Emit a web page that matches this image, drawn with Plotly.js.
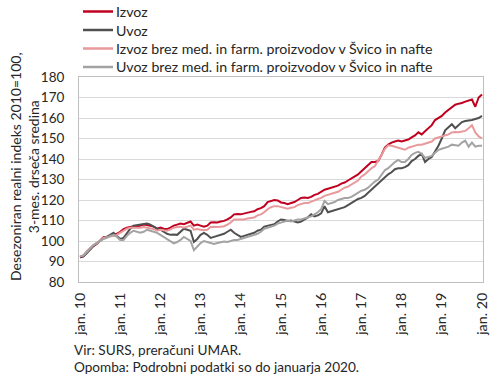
<!DOCTYPE html>
<html>
<head>
<meta charset="utf-8">
<script src="https://cdn.plot.ly/plotly-3.0.1.min.js"></script>
<style>html,body{margin:0;padding:0;background:#fff;}#chart{width:490px;height:378px;}</style>
</head>
<body>
<div id="chart"></div>
<script>
// Monthly data, jan. 2010 - jan. 2020 (121 months)
const tickLabels = ["jan. 10","jan. 11","jan. 12","jan. 13","jan. 14","jan. 15","jan. 16","jan. 17","jan. 18","jan. 19","jan. 20"];
const seriesNames = ["Izvoz","Uvoz","Izvoz brez med. in farm. proizvodov v Švico in nafte","Uvoz brez med. in farm. proizvodov v Švico in nafte"];

const izvoz = [
  92.0, 92.5, 94.5, 96.0, 97.5, 98.5, 100.0, 101.8, 102.0, 102.5, 103.0, 103.5,
  104.5, 105.8, 106.5, 107.0, 107.2, 107.0, 107.5, 108.0, 107.8, 107.5, 107.0, 106.0,
  106.5, 106.0, 105.8, 106.5, 107.5, 108.0, 108.5, 108.2, 109.0, 109.5, 107.5, 108.0,
  107.5, 107.0, 107.5, 109.0, 109.2, 109.0, 109.5, 109.8, 110.5, 111.5, 113.0, 113.2,
  113.0, 113.5, 114.0, 114.2, 114.5, 115.5, 116.0, 117.0, 119.0, 119.5, 120.0, 119.8,
  118.8, 118.5, 118.0, 118.5, 119.0, 120.0, 121.0, 121.2, 121.0, 121.5, 122.5, 123.0,
  124.0, 125.0, 125.5, 126.0, 126.5, 127.0, 128.0, 128.5, 129.5, 130.5, 131.5, 132.5,
  134.0, 135.5, 137.0, 138.5, 138.5, 139.0, 142.0, 145.5, 147.0, 148.0, 148.5, 149.0,
  148.5, 149.0, 149.5, 150.5, 151.5, 153.0, 152.0, 153.5, 155.0, 156.5, 159.0, 160.0,
  161.0, 162.7, 164.0, 165.5, 166.5, 167.0, 167.3, 168.0, 168.5, 169.0, 165.5, 170.0,
  171.5
];
const uvoz = [
  92.0, 92.5, 94.0, 96.0, 97.5, 99.0, 100.0, 101.5, 102.0, 103.0, 104.0, 102.5,
  101.0, 101.5, 104.0, 106.0, 107.5, 107.8, 108.0, 108.2, 108.5, 108.0, 107.0, 106.0,
  105.5, 104.5, 103.5, 103.0, 103.2, 103.0, 104.5, 106.0, 105.5, 105.0, 99.5, 101.0,
  103.0, 104.0, 103.0, 101.5, 102.0, 102.5, 103.0, 103.5, 104.5, 105.5, 104.0, 103.0,
  102.0, 102.5, 103.0, 103.5, 104.0, 105.0, 105.5, 107.0, 107.5, 108.0, 108.2, 109.5,
  110.5, 110.2, 109.8, 110.0, 109.5, 109.0, 109.5, 110.5, 111.5, 113.0, 112.0, 112.5,
  113.5, 117.0, 114.0, 114.5, 115.0, 115.5, 115.8, 116.5, 117.5, 118.5, 119.5, 120.5,
  121.0, 122.0, 123.5, 125.0, 126.5, 128.0, 129.5, 131.0, 132.5, 133.5, 135.0, 135.5,
  135.5, 136.0, 137.0, 139.0, 140.0, 141.5, 142.5, 138.5, 140.0, 141.0, 143.5, 146.5,
  150.0, 154.0, 155.5, 157.0, 155.0, 156.5, 158.0, 158.5, 158.7, 159.0, 159.5, 160.0,
  161.0
];
const izvozBrez = [
  92.5, 93.0, 95.0, 96.5, 98.0, 99.0, 100.0, 101.5, 101.8, 102.0, 102.5, 103.0,
  104.0, 105.0, 106.0, 106.5, 106.5, 106.2, 106.5, 106.8, 106.5, 106.0, 105.8, 105.0,
  105.5, 105.2, 105.0, 105.7, 106.5, 106.8, 107.0, 106.5, 107.2, 107.5, 105.5, 105.8,
  105.5, 105.2, 105.5, 106.8, 107.0, 106.8, 107.0, 107.2, 108.0, 109.0, 110.5, 110.5,
  110.2, 110.5, 111.0, 111.2, 111.5, 112.5, 113.0, 114.0, 115.5, 116.5, 117.0, 117.0,
  116.5, 116.0, 115.8, 116.2, 116.5, 117.5, 118.2, 118.5, 118.5, 119.0, 119.8, 120.5,
  121.0, 122.0, 122.5, 123.0, 123.5, 124.0, 125.0, 126.0, 126.5, 127.5, 128.5, 129.5,
  131.5, 132.5, 134.0, 135.5, 136.5, 139.0, 142.0, 145.0, 146.7, 146.5, 146.0, 145.5,
  144.8, 144.5, 145.5, 146.0, 146.5, 147.0, 147.0, 147.5, 147.7, 148.5, 150.0, 150.5,
  151.0, 151.5, 152.0, 153.0, 153.2, 153.0, 153.5, 153.7, 155.0, 156.5, 153.0, 151.0,
  150.0
];
const uvozBrez = [
  92.5, 93.0, 94.5, 96.5, 98.0, 99.0, 100.0, 101.0, 101.5, 102.5, 103.0, 102.0,
  100.5, 100.5, 102.5, 104.0, 105.0, 104.5, 104.0, 104.5, 105.5, 105.0, 104.5, 104.0,
  103.0, 102.0, 101.0, 100.0, 98.8, 99.5, 100.5, 102.0, 101.0, 100.0, 95.5, 97.5,
  99.0, 100.0, 99.5, 99.0, 98.5, 99.0, 99.5, 99.8, 99.5, 100.0, 100.5, 100.5,
  101.0, 101.5, 102.0, 102.5, 103.0, 103.5, 104.5, 106.0, 106.5, 107.0, 107.5, 108.5,
  109.0, 109.5, 110.0, 109.5, 110.0, 110.5, 110.5, 111.0, 111.5, 112.0, 113.0, 114.0,
  115.5, 119.5, 118.0, 118.5, 119.0, 120.0, 120.5, 121.0, 121.0, 121.5, 122.5, 123.5,
  124.5, 125.0, 126.0, 127.5, 129.0, 130.0, 132.0, 134.5, 135.5, 137.0, 138.5, 139.5,
  138.5, 138.5, 140.0, 142.0, 143.0, 143.5, 142.5, 140.5, 141.0, 141.5, 143.0, 144.5,
  145.0, 145.5, 146.0, 147.0, 146.8, 146.5, 148.0, 149.0, 146.0, 148.0, 146.0, 146.5,
  146.5
];

const monthIdx = izvoz.map((_, i) => i);
const tickVals = tickLabels.map((_, i) => i * 12);

const colors = ["#c00020", "#505050", "#e8999b", "#a3a3a3"];
const allSeries = [izvoz, uvoz, izvozBrez, uvozBrez];

const traces = allSeries.map((ys, k) => ({
  x: monthIdx, y: ys, type: "scatter", mode: "lines",
  name: seriesNames[k], showlegend: false,
  line: {color: colors[k], width: 2}
}));

const FAMILY = "Lato";
const FONT = "Lato, 'Open Sans', sans-serif";
function fitSize(text, targetPx) {
  const ctx = document.createElement("canvas").getContext("2d");
  ctx.font = "20px " + FAMILY;
  const w = ctx.measureText(text).width;
  return Math.round(20 * targetPx / w * 10) / 10;
}
const legendSize = fitSize(seriesNames[2], 318);
const noteSize = fitSize("Vir: SURS, preračuni UMAR.", 167);
const titleSize = fitSize("3-mes. drseča sredina", 133);
const xTickSize = fitSize("jan. 10", 42);
const TXT = "#262626";

// plot area in pixels, for converting layout positions to paper coordinates
const M = {l: 79, r: 7, t: 77, b: 96};
const W = 490, H = 378;
const pw = W - M.l - M.r, ph = H - M.t - M.b;
const px2x = p => (p - M.l) / pw;
const px2y = p => (H - M.b - p) / ph;

// legend drawn above the plot: a line sample and a label per series
const legendRowTop = 11.5, legendRowStep = 18.5;
const legendShapes = seriesNames.map((_, k) => ({
  type: "line", xref: "paper", yref: "paper",
  x0: px2x(83), x1: px2x(113),
  y0: px2y(legendRowTop + k * legendRowStep), y1: px2y(legendRowTop + k * legendRowStep),
  line: {color: colors[k], width: 2.5}
}));
const legendLabels = seriesNames.map((name, k) => ({
  text: name, xref: "paper", yref: "paper",
  x: px2x(114), y: px2y(legendRowTop + k * legendRowStep),
  xanchor: "left", yanchor: "middle", showarrow: false,
  font: {family: FONT, size: legendSize, color: TXT}
}));

const layout = {
  width: W, height: H,
  margin: M,
  paper_bgcolor: "#fff", plot_bgcolor: "#fff",
  font: {family: FONT, size: 13, color: TXT},
  showlegend: false,
  xaxis: {range: [-0.3, 120.3], tickvals: tickVals, ticktext: tickLabels, tickangle: -90,
          tickfont: {family: FONT, size: xTickSize, color: TXT}, ticklabelstandoff: 4,
          showgrid: false, zeroline: false, showline: true, mirror: true, linecolor: "#bfbfbf", linewidth: 1,
          ticks: "", fixedrange: true},
  yaxis: {range: [80, 180], dtick: 10, showgrid: true, gridcolor: "#d9d9d9", gridwidth: 1,
          tickfont: {family: FONT, size: 13.5, color: TXT}, ticklabelstandoff: 11,
          zeroline: false, showline: true, mirror: true, linecolor: "#bfbfbf", linewidth: 1,
          ticks: "", fixedrange: true},
  shapes: legendShapes,
  annotations: [
    {text: "Desezoniran realni indeks 2010=100,<br>3-mes. drseča sredina", textangle: -90,
     xref: "paper", yref: "paper", x: px2x(24), y: px2y(167), xanchor: "center", yanchor: "middle",
     showarrow: false, font: {family: FONT, size: titleSize, color: TXT}},
    {text: "Vir: SURS, preračuni UMAR.", xref: "paper", yref: "paper", x: px2x(72), y: px2y(350),
     xanchor: "left", yanchor: "middle", showarrow: false, font: {family: FONT, size: noteSize, color: TXT}},
    {text: "Opomba: Podrobni podatki so do januarja 2020.", xref: "paper", yref: "paper", x: px2x(72), y: px2y(367),
     xanchor: "left", yanchor: "middle", showarrow: false, font: {family: FONT, size: noteSize, color: TXT}}
  ].concat(legendLabels)
};

Plotly.newPlot("chart", traces, layout, {displayModeBar: false, staticPlot: true});
</script>
</body>
</html>
